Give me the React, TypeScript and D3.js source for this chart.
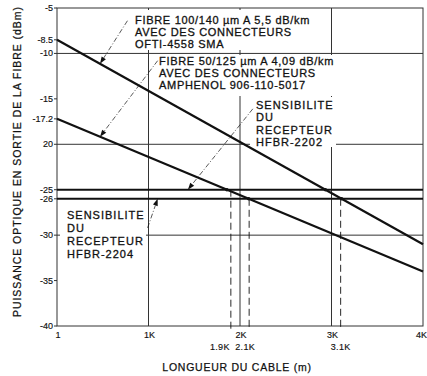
import React from 'react';
import * as d3 from 'd3';

// sizes
const width = 427;
const height = 376;
const left = 57;
const right = 423;
const top = 8;
const bottom = 326;

// axis ticks
const xTicks = [0, 1000, 2000, 3000, 4000];
const xTickLabels = ['1', '1K', '2K', '3K', '4K'];
const crossTicks = [1900, 2100, 3100];
const crossTickLabels = ['1.9K', '2.1K', '3.1K'];
const crossFrom = [-25, -26, -26];
const yTicks = [-5, -8.5, -10, -15, -17.2, -20, -25, -26, -30, -35, -40];
const yTickLabels = ['-5', '-8.5', '-10', '-15', '-17.2', '20', '-25', '-26', '-30', '-35', '-40'];
const gridX = [1000, 2000, 3000];
const gridY = [-10, -20, -30];

// series (length in m, power in dBm)
const fibre100 = [[0, -8.5], [4000, -31]];
const fibre50 = [[0, -17.2], [4000, -34]];
const sensitivities = [-25, -26];

// annotation text
const label100 = ['FIBRE 100/140 µm A 5,5 dB/km', 'AVEC DES CONNECTEURS', 'OFTI-4558 SMA'];
const label50 = ['FIBRE 50/125 µm A 4,09 dB/km', 'AVEC DES CONNECTEURS', 'AMPHENOL 906-110-5017'];
const label2202 = ['SENSIBILITE', 'DU', 'RECEPTEUR', 'HFBR-2202'];
const label2204 = ['SENSIBILITE', 'DU', 'RECEPTEUR', 'HFBR-2204'];

const font = '"Liberation Sans", Arial, sans-serif';
const ink = '#111';

const x = d3.scaleLinear().domain([0, 4000]).range([left, right]);
const y = d3.scaleLinear().domain([-5, -40]).range([top, bottom]);
const line = d3.line<number[]>().x(d => x(d[0])).y(d => y(d[1]));

// power of a straight series at a given length
function powerAt(s: number[][], len: number) {
  const [[x0, y0], [x1, y1]] = s;
  return y0 + (len - x0) * (y1 - y0) / (x1 - x0);
}

// where a straight series hits a power level
function crossAt(s: number[][], level: number) {
  const [[x0, y0], [x1, y1]] = s;
  return x0 + (level - y0) * (x1 - x0) / (y1 - y0);
}

function Label({ lines, px, py, step, box, spacing }: any) {
  return (
    <g>
      <rect x={box[0]} y={box[1]} width={box[2]} height={box[3]} fill="#fff" />
      {lines.map((t: string, i: number) => (
        <text key={i} x={px} y={py + i * step} fontSize={11} letterSpacing={spacing}
          fill={ink} stroke={ink} strokeWidth={0.3}>{t}</text>
      ))}
    </g>
  );
}

function Pointer({ from, to }: any) {
  const x1 = x(from[0]), y1 = y(from[1]);
  const x2 = x(to[0]), y2 = y(to[1]);
  const a = Math.atan2(y2 - y1, x2 - x1);
  const len = 7, w = 2.5;
  const bx = x2 - len * Math.cos(a), by = y2 - len * Math.sin(a);
  const head = [
    [x2, y2],
    [bx + w * Math.sin(a), by - w * Math.cos(a)],
    [bx - w * Math.sin(a), by + w * Math.cos(a)],
  ];
  return (
    <g>
      <line x1={x1} y1={y1} x2={bx} y2={by} stroke={ink} strokeWidth={0.7} strokeDasharray="5,2,1,2" />
      <polygon points={head.map(p => p.join(',')).join(' ')} fill={ink} />
    </g>
  );
}

export default function App() {
  const dots: number[][] = [];
  sensitivities.forEach(l => {
    dots.push([crossAt(fibre100, l), l]);
    dots.push([crossAt(fibre50, l), l]);
  });

  return (
    <svg width={width} height={height} style={{ position: 'absolute', left: 0, top: 0, background: '#fff' }}
      fontFamily={font}>
      <rect width={width} height={height} fill="#fff" />

      {/* grid */}
      {gridX.map(v => (
        <line key={'gx' + v} x1={x(v)} x2={x(v)} y1={top} y2={bottom} stroke="#333" strokeWidth={1} />
      ))}
      {gridY.map(v => (
        <line key={'gy' + v} x1={left} x2={right} y1={y(v)} y2={y(v)} stroke="#333" strokeWidth={1} />
      ))}
      <rect x={left} y={top} width={right - left} height={bottom - top} fill="none" stroke="#333" strokeWidth={1} />

      {/* dashed drops to the length axis */}
      {crossTicks.map((v, i) => (
        <line key={'cd' + v} x1={x(v)} x2={x(v)} y1={y(crossFrom[i])} y2={bottom + 4}
          stroke={ink} strokeWidth={0.9} strokeDasharray="7,4" />
      ))}

      {/* labels with white boxes */}
      <Label lines={label100} px={135} py={24} step={11.8} box={[128, 10, 184, 40]} spacing={0.7} />
      <Label lines={label50} px={159} py={64.5} step={12} box={[154, 55, 184, 41]} spacing={0.7} />
      <Label lines={label2202} px={256} py={108.5} step={12.6} box={[250, 97, 86, 50]} spacing={1} />
      <Label lines={label2204} px={67} py={219} step={13.1} box={[60, 203, 86, 58]} spacing={1} />

      {/* sensitivity levels */}
      {sensitivities.map(v => (
        <line key={'s' + v} x1={left} x2={right} y1={y(v)} y2={y(v)} stroke={ink} strokeWidth={2} />
      ))}

      {/* fibre attenuation lines */}
      <path d={line(fibre100) || ''} fill="none" stroke={ink} strokeWidth={2.2} />
      <path d={line(fibre50) || ''} fill="none" stroke={ink} strokeWidth={2.2} />
      {dots.map((d, i) => (
        <circle key={'d' + i} cx={x(d[0])} cy={y(d[1])} r={1.8} fill={ink} />
      ))}

      {/* pointers */}
      <Pointer from={[770, -6.4]} to={[470, powerAt(fibre100, 470)]} />
      <Pointer from={[1100, -10.8]} to={[470, powerAt(fibre50, 470)]} />
      <Pointer from={[2140, -16.1]} to={[1430, -25]} />
      <Pointer from={[990, -29.2]} to={[1100, -26]} />

      {/* y axis */}
      {yTicks.map((v, i) => (
        <g key={'yt' + v}>
          <line x1={left - 3} x2={left} y1={y(v)} y2={y(v)} stroke="#333" strokeWidth={1} />
          <text x={left - 4} y={y(v)} dy="0.34em" textAnchor="end" fontSize={9} fill={ink}
            stroke={ink} strokeWidth={0.15}>{yTickLabels[i]}</text>
        </g>
      ))}

      {/* x axis */}
      {xTicks.map((v, i) => (
        <text key={'xt' + v} x={i === xTicks.length - 1 ? width : x(v) + 1} y={338}
          textAnchor={i === xTicks.length - 1 ? 'end' : 'middle'} fontSize={9} fill={ink}
          stroke={ink} strokeWidth={0.15}>{xTickLabels[i]}</text>
      ))}
      {crossTicks.map((v, i) => (
        <text key={'ct' + v} x={x(v) + (i === 0 ? -11 : i === 1 ? -4 : 0)} y={350} textAnchor="middle"
          fontSize={9} letterSpacing={0.3} fill={ink} stroke={ink} strokeWidth={0.15}>{crossTickLabels[i]}</text>
      ))}

      <text x={237} y={371} textAnchor="middle" fontSize={10.5} letterSpacing={0.75} fill={ink}
        stroke={ink} strokeWidth={0.25}>
        LONGUEUR DU CABLE (m)
      </text>
      <text transform="translate(21,162) rotate(-90)" textAnchor="middle" fontSize={10.5} fill={ink}
        stroke={ink} strokeWidth={0.25} textLength={310} lengthAdjust="spacing">
        PUISSANCE OPTIQUE EN SORTIE DE LA FIBRE (dBm)
      </text>
    </svg>
  );
}
